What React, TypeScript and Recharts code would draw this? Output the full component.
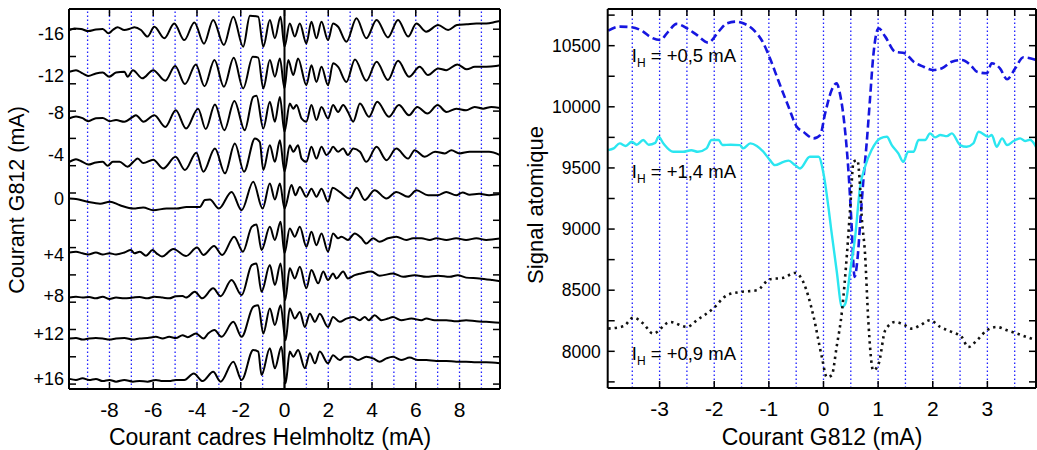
import { LineChart, Line, XAxis, YAxis, ReferenceLine, ReferenceDot } from "recharts";

const FONT = "'Liberation Sans', Arial, Helvetica, sans-serif";
const GRID = "#1f1fff";

// ---------- left panel: signal vs Helmholtz current, one trace per G812 current
const g812Labels = ["-16", "-12", "-8", "-4", "0", "+4", "+8", "+12", "+16"];
const labelTicks = [128.5, 113, 99.5, 84, 68, 47.5, 32.5, 18.5, 2.2];
const traceOffsets = [129.7, 114.1, 97.4, 81.3, 68.1, 48.0, 31.7, 16.8, 1.5];
const leftXTicks = [-8, -6, -4, -2, 0, 2, 4, 6, 8];
const leftGrid = [-9, -8, -7, -6, -5, -4, -3, -2, -1, 1, 2, 3, 4, 5, 6, 7, 8, 9];
const leftYMarks = [0, 10, 20, 30, 40, 50, 60, 70, 80, 90, 100, 110, 120, 130];

// [courant Helmholtz (mA), signal]
const traceM16 = [[-9.83,0],[-9.6,0.6],[-9.3,0.4],[-8.97,-0.4],[-8.62,0.2],[-8.31,0.4],[-8.04,-1.2],[-7.85,0],[-7.63,1.0],[-7.32,0],[-7.02,0.6],[-6.86,1.0],[-6.56,0],[-6.26,-2.4],[-5.95,1.2],[-5.49,-3.0],[-5.04,2.4],[-4.58,-3.7],[-4.12,2.8],[-3.68,-5.0],[-3.26,3.7],[-2.77,-5.5],[-2.34,4.9],[-1.89,-6.1],[-1.58,5.2],[-1.2,4.9],[-0.97,-6.1],[-0.67,3.7],[-0.44,-3.0],[-0.18,4.9],[0,-6.1],[0.24,2.4],[0.47,-2.4],[0.7,2.4],[1.0,-4.9],[1.23,3.0],[1.46,-3.0],[1.69,3.0],[1.99,-3.7],[2.22,2.4],[2.45,1.2],[2.83,-4.3],[3.29,4.3],[3.74,-3.0],[4.21,3.7],[4.73,-2.7],[5.19,3.7],[5.65,-2.4],[6.03,2.4],[6.48,-0.6],[7.02,1.8],[7.48,0],[7.88,1.8],[8.33,2.1],[8.77,2.4],[9.22,2.4],[9.66,3.0],[9.85,3.3]];
const traceM12 = [[-9.83,0.3],[-9.53,0.9],[-9.23,-0.3],[-8.97,-1.2],[-8.62,-0.3],[-8.31,0],[-8.01,-1.5],[-7.7,0],[-7.32,0.3],[-7.17,-1.5],[-6.93,0.9],[-6.5,-2.1],[-6.0,0.9],[-5.45,-3.0],[-5.0,2.4],[-4.55,-4.2],[-4.05,3.0],[-3.66,-5.0],[-3.2,4.6],[-2.77,-5.2],[-2.32,5.4],[-1.89,-5.8],[-1.45,5.8],[-1.2,5.5],[-0.97,-5.8],[-0.67,4.6],[-0.44,-1.5],[-0.21,5.2],[0,-5.8],[0.17,4.6],[0.4,-0.9],[0.62,5.2],[1.0,-4.6],[1.23,2.7],[1.46,-3.4],[1.69,2.1],[1.99,-4.6],[2.22,3.4],[2.45,2.1],[2.83,-3.4],[3.22,4.8],[3.74,-3.0],[4.21,4.0],[4.73,-2.7],[5.19,4.3],[5.69,-1.5],[6.18,2.1],[6.56,-0.9],[7.02,1.5],[7.39,0.9],[7.9,3.0],[8.33,1.2],[8.7,2.1],[9.22,2.1],[9.66,2.4],[9.85,2.7]];
const traceM8 = [[-9.83,0],[-9.53,0.6],[-9.23,0],[-8.97,-1.1],[-8.62,0],[-8.31,0.1],[-8.0,-1.1],[-7.7,-0.7],[-7.32,-1.3],[-6.93,0.5],[-6.79,1.1],[-6.45,-1.3],[-5.95,1.1],[-5.45,-3.2],[-4.97,2.9],[-4.5,-3.8],[-3.95,3.5],[-3.6,-4.0],[-3.18,5.0],[-2.75,-4.4],[-2.29,6.3],[-1.82,-4.4],[-1.43,7.8],[-1.28,8.2],[-0.97,-3.8],[-0.67,6.0],[-0.44,-1.3],[-0.21,7.8],[0,-5.0],[0.24,5.4],[0.4,3.5],[0.55,4.8],[0.78,-0.1],[1.0,-1.3],[1.23,4.8],[1.46,-0.7],[1.69,4.1],[1.99,-0.1],[2.22,4.8],[2.45,2.3],[2.68,4.8],[2.9,2.3],[3.14,-1.3],[3.45,5.4],[3.86,0.5],[4.24,6.0],[4.77,0.5],[5.23,4.8],[5.69,1.1],[6.07,4.1],[6.53,1.7],[7.0,4.8],[7.4,2.3],[7.85,3.5],[8.3,2.9],[8.69,4.1],[9.08,3.5],[9.45,4.1],[9.85,3.7]];
const traceM4 = [[-9.83,0.1],[-9.53,1.1],[-9.23,0.1],[-8.97,-0.9],[-8.62,-0.1],[-8.31,0.1],[-8.08,-1.3],[-7.85,0.1],[-7.54,0.1],[-7.17,-1.7],[-6.91,0.1],[-6.71,1.3],[-6.45,-0.3],[-6.0,0.9],[-5.54,-2.3],[-4.98,2.0],[-4.55,-2.9],[-4.03,3.4],[-3.71,-3.5],[-3.18,5.0],[-2.72,-4.1],[-2.27,6.8],[-1.85,-3.5],[-1.35,8.7],[-1.13,7.4],[-0.97,-2.9],[-0.67,6.2],[-0.44,0.1],[-0.21,8.0],[0,-3.5],[0.24,6.2],[0.4,3.8],[0.62,6.2],[0.78,1.3],[1.0,0.1],[1.23,5.6],[1.46,1.3],[1.69,5.6],[1.92,2.6],[2.07,3.8],[2.22,5.6],[2.45,3.8],[2.68,5.0],[2.9,2.6],[3.14,5.0],[3.45,3.8],[3.74,0.1],[4.21,5.6],[4.66,0.7],[5.11,5.0],[5.65,1.3],[5.95,4.4],[6.41,2.0],[6.88,3.8],[7.33,3.2],[7.63,4.4],[8.0,3.2],[8.46,3.8],[8.9,3.8],[9.35,3.8],[9.85,2.6]];
const trace0 = [[-9.83,-0.1],[-9.53,-0.3],[-9.0,-1.3],[-8.43,-2.0],[-7.98,-1.3],[-7.52,-2.6],[-6.91,-3.8],[-6.46,-3.4],[-6.0,-4.4],[-5.39,-3.8],[-4.93,-3.8],[-4.48,-3.2],[-3.87,-3.2],[-3.64,-0.7],[-3.41,-0.5],[-3.0,-3.8],[-2.42,2.3],[-1.96,-4.4],[-1.43,6.0],[-1.0,-3.8],[-0.67,5.4],[-0.44,-0.5],[-0.21,5.4],[0,-3.8],[0.32,4.8],[0.5,1.1],[0.7,4.1],[1.0,0.5],[1.23,3.5],[1.46,0.5],[1.69,3.5],[1.99,-1.3],[2.2,3.8],[2.52,2.3],[2.98,-0.1],[3.3,3.8],[3.67,-0.7],[4.12,2.9],[4.66,-0.1],[5.11,2.3],[5.65,0.5],[6.03,2.9],[6.56,1.1],[7.0,1.1],[7.39,2.3],[7.85,1.1],[8.14,2.1],[8.46,1.3],[8.9,1.6],[9.35,1.1],[9.85,1.5]];
const traceP4 = [[-9.83,0.2],[-9.53,0.5],[-9.23,-0.1],[-8.97,-0.5],[-8.62,0.2],[-8.31,-0.5],[-8.0,-0.1],[-7.7,-0.5],[-7.32,0.2],[-7.02,1.1],[-6.86,-0.1],[-6.61,0.5],[-6.33,-1.0],[-6.03,1.1],[-5.85,-0.1],[-5.6,-1.3],[-5.08,1.5],[-4.5,-1.1],[-4.0,2.0],[-3.7,-0.7],[-3.22,2.6],[-2.85,-0.7],[-2.3,6.0],[-1.9,0.5],[-1.5,9.6],[-1.28,10.5],[-1.05,1.1],[-0.67,9.6],[-0.44,4.8],[-0.18,11.5],[0,-0.1],[0.24,9.0],[0.47,6.0],[0.7,9.6],[1.0,2.3],[1.23,7.8],[1.46,2.9],[1.69,7.2],[1.99,0.5],[2.22,7.2],[2.45,5.4],[2.6,6.0],[2.9,4.8],[3.21,7.2],[3.5,5.6],[3.74,3.5],[4.05,5.4],[4.35,4.1],[4.73,5.4],[5.11,6.0],[5.57,4.8],[5.88,5.4],[6.26,5.4],[6.64,4.8],[6.94,5.4],[7.4,4.8],[7.85,5.4],[8.3,4.8],[8.77,5.4],[9.22,4.8],[9.85,5.3]];
const traceP8 = [[-9.83,0],[-9.53,0.3],[-9.23,0],[-8.93,0.2],[-8.62,-0.3],[-8.31,0.3],[-8.0,-0.5],[-7.7,0],[-7.32,-0.3],[-6.93,0],[-6.63,0.2],[-6.26,-0.3],[-5.95,0.3],[-5.57,0],[-5.27,-0.3],[-4.96,0.5],[-4.66,0.6],[-4.5,0],[-4.1,2.1],[-3.76,-0.3],[-3.26,3.4],[-2.92,0.5],[-2.42,6.4],[-1.96,0.9],[-1.5,11.9],[-1.28,12.5],[-1.05,2.1],[-0.67,11.9],[-0.44,4.6],[-0.18,12.5],[0.03,-0.9],[0.24,10.7],[0.47,7.0],[0.7,11.3],[1.0,3.4],[1.23,10.1],[1.54,5.2],[1.77,9.5],[1.99,6.4],[2.22,8.8],[2.37,7.0],[2.68,9.5],[2.9,7.0],[3.21,8.2],[3.5,8.8],[3.97,9.5],[4.35,8.0],[4.96,8.8],[5.42,7.6],[5.95,8.2],[6.48,7.6],[7.02,8.0],[7.55,7.6],[7.92,8.2],[8.3,7.3],[8.9,7.0],[9.5,6.4],[9.85,6.0]];
const traceP12 = [[-9.83,-0.1],[-9.53,0.1],[-9.23,-0.5],[-8.93,-0.1],[-8.62,0.1],[-8.31,-0.1],[-8.0,-0.5],[-7.7,-0.1],[-7.32,0.1],[-6.93,-0.5],[-6.63,-0.1],[-6.26,0.1],[-5.88,0.5],[-5.57,-0.1],[-5.27,0.5],[-4.96,0.1],[-4.66,1.1],[-4.43,0.4],[-4.05,1.7],[-3.7,-0.1],[-3.49,1.7],[-3.2,3.0],[-2.88,0.5],[-2.34,6.0],[-1.96,0.5],[-1.43,11.5],[-1.2,12.1],[-0.97,1.7],[-0.67,10.9],[-0.44,4.8],[-0.18,12.1],[0.05,-0.7],[0.24,10.9],[0.47,7.2],[0.7,9.6],[0.93,4.1],[1.16,9.0],[1.39,6.0],[1.61,9.0],[1.99,4.1],[2.22,7.8],[2.52,6.0],[2.83,7.2],[3.14,7.8],[3.44,6.6],[3.67,7.8],[3.85,6.6],[4.12,8.4],[4.43,6.6],[4.73,7.2],[4.96,7.8],[5.33,6.6],[5.8,7.2],[6.26,6.6],[6.48,7.2],[6.86,6.6],[7.4,6.6],[7.85,6.2],[8.3,6.6],[8.77,6.2],[9.22,6.0],[9.85,5.7]];
const traceP16 = [[-9.83,0.4],[-9.53,0],[-9.23,0.6],[-8.93,0],[-8.62,0.4],[-8.31,-0.4],[-8.0,0],[-7.7,-0.6],[-7.32,0],[-6.93,-0.6],[-6.63,-0.4],[-6.26,-0.6],[-5.88,0],[-5.57,-0.4],[-5.27,-0.4],[-4.96,0],[-4.58,0],[-4.15,2.4],[-3.74,-0.4],[-3.26,3.0],[-2.92,-0.6],[-2.34,6.7],[-1.96,0],[-1.43,11.0],[-1.2,10.4],[-1.05,1.8],[-0.67,11.6],[-0.44,4.3],[-0.14,12.2],[0.05,-1.2],[0.24,10.4],[0.4,8.5],[0.62,11.0],[0.93,4.3],[1.16,9.8],[1.39,6.1],[1.61,10.4],[1.99,6.1],[2.22,9.1],[2.52,7.3],[2.75,8.5],[3.05,8.5],[3.36,7.3],[3.74,8.5],[4.05,7.9],[4.35,6.7],[4.66,7.9],[4.96,8.5],[5.33,7.3],[5.72,8.2],[6.1,7.3],[6.48,7.3],[6.94,7.0],[7.4,7.0],[7.85,6.7],[8.3,6.7],[8.77,6.5],[9.22,6.5],[9.85,6.1]];

const leftTraces = [traceM16, traceM12, traceM8, traceM4, trace0, traceP4, traceP8, traceP12, traceP16];

// ---------- right panel: signal atomique vs G812 current
const rightXTicks = [-3, -2, -1, 0, 1, 2, 3];
const rightGrid = [-3.5, -3, -2.5, -2, -1.5, -1, -0.5, 0, 0.5, 1, 1.5, 2, 2.5, 3, 3.5];
const rightYLabels = [8000, 8500, 9000, 9500, 10000, 10500];
const rightYMarks = [7750, 8000, 8250, 8500, 8750, 9000, 9250, 9500, 9750, 10000, 10250, 10500, 10750];
const ihLabels = ["+0,5 mA", "+1,4 mA", "+0,9 mA"];

const ih05 = [[-3.94,10623],[-3.73,10656],[-3.51,10651],[-3.3,10615],[-3.18,10574],[-2.99,10547],[-2.84,10615],[-2.69,10678],[-2.5,10642],[-2.32,10588],[-2.11,10525],[-1.92,10615],[-1.77,10683],[-1.59,10697],[-1.47,10683],[-1.28,10629],[-1.1,10520],[-0.98,10397],[-0.83,10219],[-0.64,10000],[-0.49,9837],[-0.37,9796],[-0.18,9742],[-0.06,9769],[0.03,9946],[0.15,10137],[0.24,10192],[0.3,10110],[0.4,9783],[0.46,9455],[0.51,9072],[0.57,8608],[0.62,8745],[0.68,9100],[0.73,9400],[0.79,9700],[0.85,10055],[0.91,10410],[1.01,10642],[1.13,10574],[1.31,10451],[1.49,10438],[1.65,10369],[1.83,10328],[2.01,10301],[2.17,10315],[2.35,10369],[2.53,10383],[2.69,10342],[2.81,10287],[2.99,10274],[3.08,10356],[3.23,10315],[3.36,10225],[3.51,10315],[3.66,10405],[3.89,10383]];
const ih14 = [[-3.94,9646],[-3.84,9660],[-3.73,9701],[-3.62,9680],[-3.51,9714],[-3.42,9690],[-3.3,9728],[-3.2,9690],[-3.08,9705],[-3.02,9755],[-2.93,9700],[-2.75,9632],[-2.57,9632],[-2.42,9645],[-2.3,9632],[-2.14,9660],[-2.05,9728],[-1.92,9728],[-1.85,9687],[-1.7,9690],[-1.53,9687],[-1.47,9660],[-1.34,9701],[-1.22,9680],[-1.1,9632],[-0.98,9564],[-0.89,9523],[-0.73,9550],[-0.64,9560],[-0.52,9523],[-0.43,9496],[-0.25,9591],[-0.09,9591],[0.0,9455],[0.09,9181],[0.14,9000],[0.24,8663],[0.34,8362],[0.4,8390],[0.49,8663],[0.58,8936],[0.67,9345],[0.76,9509],[0.88,9646],[1.04,9742],[1.16,9755],[1.25,9687],[1.37,9619],[1.46,9550],[1.55,9632],[1.65,9632],[1.74,9728],[1.86,9728],[1.95,9783],[2.04,9750],[2.14,9769],[2.26,9760],[2.35,9783],[2.5,9687],[2.62,9673],[2.74,9700],[2.84,9796],[3.02,9755],[3.08,9769],[3.17,9673],[3.27,9742],[3.36,9687],[3.48,9720],[3.6,9742],[3.69,9720],[3.78,9730],[3.89,9673]];
const ih09 = [[-3.94,8186],[-3.66,8205],[-3.48,8276],[-3.3,8227],[-3.12,8145],[-2.81,8240],[-2.5,8199],[-2.32,8254],[-2.02,8350],[-1.77,8458],[-1.53,8485],[-1.22,8499],[-0.98,8590],[-0.75,8600],[-0.52,8641],[-0.37,8567],[-0.18,8281],[-0.03,7953],[0.06,7789],[0.15,7803],[0.24,8035],[0.34,8335],[0.43,8800],[0.49,9181],[0.55,9550],[0.62,9564],[0.67,9345],[0.7,9100],[0.76,8800],[0.82,8254],[0.91,7844],[1.01,7899],[1.13,8172],[1.31,8240],[1.49,8213],[1.62,8186],[1.77,8213],[1.95,8254],[2.14,8199],[2.35,8158],[2.53,8117],[2.65,8035],[2.81,8090],[2.99,8172],[3.17,8199],[3.36,8172],[3.54,8145],[3.72,8117],[3.89,8090]];

const toPoints = (arr: number[][], offset = 0) => arr.map(([x, y]) => ({ x, y: y + offset }));

const axisStroke = { stroke: "#000", strokeWidth: 2 };

// inward tick marks, labels outside
const LeftYTick = ({ x, y, payload }: any) => {
  const v = payload.value;
  const li = labelTicks.indexOf(v);
  return (
    <g>
      {leftYMarks.includes(v) && <line x1={x} y1={y} x2={x + 7} y2={y} stroke="#000" strokeWidth={1.5} />}
      {li >= 0 && (
        <text x={x - 5} y={y} dy="0.36em" textAnchor="end" fontSize={18} fontFamily={FONT} fill="#000">
          {g812Labels[li]}
        </text>
      )}
    </g>
  );
};

const RightYTick = ({ x, y, payload }: any) => {
  const v = payload.value;
  return (
    <g>
      <line x1={x} y1={y} x2={x + 7} y2={y} stroke="#000" strokeWidth={1.5} />
      {rightYLabels.includes(v) && (
        <text x={x - 7} y={y} dy="0.36em" textAnchor="end" fontSize={17.5} fontFamily={FONT} fill="#000">
          {v}
        </text>
      )}
    </g>
  );
};

const MarkRight = ({ x, y }: any) => <line x1={x} y1={y} x2={x - 7} y2={y} stroke="#000" strokeWidth={1.5} />;
const MarkTop = ({ x, y }: any) => <line x1={x} y1={y} x2={x} y2={y + 7} stroke="#000" strokeWidth={1.5} />;

const BottomTick = ({ x, y, payload }: any) => (
  <g>
    <line x1={x} y1={y} x2={x} y2={y - 7} stroke="#000" strokeWidth={1.5} />
    <text x={x} y={y + 28} textAnchor="middle" fontSize={21} fontFamily={FONT} fill="#000">
      {payload.value}
    </text>
  </g>
);

const ihLabel = (text: string) => (props: any) => {
  const vb = props.viewBox || {};
  const x = vb.x ?? props.x;
  const y = vb.y ?? props.y;
  return (
    <text x={x} y={y} fontSize={18.5} fontFamily={FONT} fill="#000">
      I<tspan fontSize={12} dy={5}>H</tspan>
      <tspan dy={-5}>{" = " + text}</tspan>
    </text>
  );
};

function LeftPanel() {
  return (
    <LineChart width={520} height={450} margin={{ top: 8, right: 19, bottom: 31, left: 9 }}>
      <XAxis xAxisId="b" type="number" dataKey="x" domain={[-9.85, 9.85]} ticks={leftXTicks} interval={0}
        allowDataOverflow tickSize={0} tickMargin={0} height={30} axisLine={axisStroke} tickLine={false} tick={BottomTick} />
      <XAxis xAxisId="t" orientation="top" type="number" dataKey="x" domain={[-9.85, 9.85]} ticks={leftXTicks} interval={0}
        allowDataOverflow tickSize={0} tickMargin={0} height={1} axisLine={axisStroke} tickLine={false} tick={MarkTop} />
      <YAxis yAxisId="l" type="number" domain={[-1.8, 137.4]} allowDataOverflow
        ticks={[...leftYMarks, ...labelTicks].sort((a, b) => a - b)} interval={0}
        tickSize={0} tickMargin={0} width={60} axisLine={axisStroke} tickLine={false} tick={LeftYTick} />
      <YAxis yAxisId="r" orientation="right" type="number" domain={[-1.8, 137.4]} allowDataOverflow
        ticks={leftYMarks} interval={0} tickSize={0} tickMargin={0} width={1} axisLine={axisStroke} tickLine={false} tick={MarkRight} />
      {leftGrid.map((g) => (
        <ReferenceLine key={g} x={g} xAxisId="b" yAxisId="l" stroke={GRID} strokeWidth={1.3} strokeDasharray="1.4 2.6" />
      ))}
      <ReferenceLine x={0} xAxisId="b" yAxisId="l" stroke="#000" strokeWidth={2} />
      {leftTraces.map((t, i) => (
        <Line key={g812Labels[i]} data={toPoints(t, traceOffsets[i])} dataKey="y" xAxisId="b" yAxisId="l"
          type="monotone" stroke="#000" strokeWidth={2} dot={false} isAnimationActive={false} />
      ))}
    </LineChart>
  );
}

function RightPanel() {
  const anchors = [
    { x: -3.51, y: 10369 },
    { x: -3.51, y: 9414 },
    { x: -3.51, y: 7926 },
  ];
  return (
    <LineChart width={517} height={450} margin={{ top: 8, right: 0, bottom: 32, left: 7.7 }}>
      <XAxis xAxisId="b" type="number" dataKey="x" domain={[-3.95, 3.89]} ticks={rightXTicks} interval={0}
        allowDataOverflow tickSize={0} tickMargin={0} height={30} axisLine={axisStroke} tickLine={false} tick={BottomTick} />
      <XAxis xAxisId="t" orientation="top" type="number" dataKey="x" domain={[-3.95, 3.89]} ticks={rightGrid} interval={0}
        allowDataOverflow tickSize={0} tickMargin={0} height={1} axisLine={axisStroke} tickLine={false} tick={MarkTop} />
      <YAxis yAxisId="l" type="number" domain={[7700, 10800]} allowDataOverflow ticks={rightYMarks} interval={0}
        tickSize={0} tickMargin={0} width={80} axisLine={axisStroke} tickLine={false} tick={RightYTick} />
      <YAxis yAxisId="r" orientation="right" type="number" domain={[7700, 10800]} allowDataOverflow ticks={rightYMarks}
        interval={0} tickSize={0} tickMargin={0} width={1} axisLine={axisStroke} tickLine={false} tick={MarkRight} />
      {rightGrid.map((g) => (
        <ReferenceLine key={g} x={g} xAxisId="b" yAxisId="l" stroke={GRID} strokeWidth={1.3} strokeDasharray="1.4 2.6" />
      ))}
      {ihLabels.map((t, i) => (
        <ReferenceDot key={t} x={anchors[i].x} y={anchors[i].y} xAxisId="b" yAxisId="l" r={0}
          fill="none" stroke="none" label={ihLabel(t)} />
      ))}
      <Line data={toPoints(ih05)} dataKey="y" xAxisId="b" yAxisId="l" type="monotone" stroke="#1616e0"
        strokeWidth={2.6} strokeDasharray="8 4" dot={false} isAnimationActive={false} />
      <Line data={toPoints(ih14)} dataKey="y" xAxisId="b" yAxisId="l" type="monotone" stroke="#2be6f0"
        strokeWidth={2.4} dot={false} isAnimationActive={false} />
      <Line data={toPoints(ih09)} dataKey="y" xAxisId="b" yAxisId="l" type="monotone" stroke="#111"
        strokeWidth={2.6} strokeDasharray="2.4 4" dot={false} isAnimationActive={false} />
    </LineChart>
  );
}

const title = (extra: React.CSSProperties): React.CSSProperties => ({
  position: "absolute",
  whiteSpace: "nowrap",
  color: "#000",
  lineHeight: 1,
  ...extra,
});

export default function App() {
  return (
    <div style={{ position: "absolute", left: 0, top: 0, width: 1037, height: 450, background: "#fff", fontFamily: FONT, overflow: "hidden" }}>
      <div style={{ position: "absolute", left: 0, top: 0 }}>
        <LeftPanel />
      </div>
      <div style={{ position: "absolute", left: 520, top: 0 }}>
        <RightPanel />
      </div>
      <div style={title({ left: 270, top: 437, fontSize: 23, transform: "translate(-50%, -50%)" })}>
        Courant cadres Helmholtz (mA)
      </div>
      <div style={title({ left: 18, top: 200, fontSize: 21.5, transform: "translate(-50%, -50%) rotate(-90deg)" })}>
        Courant G812 (mA)
      </div>
      <div style={title({ left: 536, top: 205, fontSize: 22, transform: "translate(-50%, -50%) rotate(-90deg)" })}>
        Signal atomique
      </div>
      <div style={title({ left: 822, top: 437, fontSize: 23, transform: "translate(-50%, -50%)" })}>
        Courant G812 (mA)
      </div>
    </div>
  );
}
